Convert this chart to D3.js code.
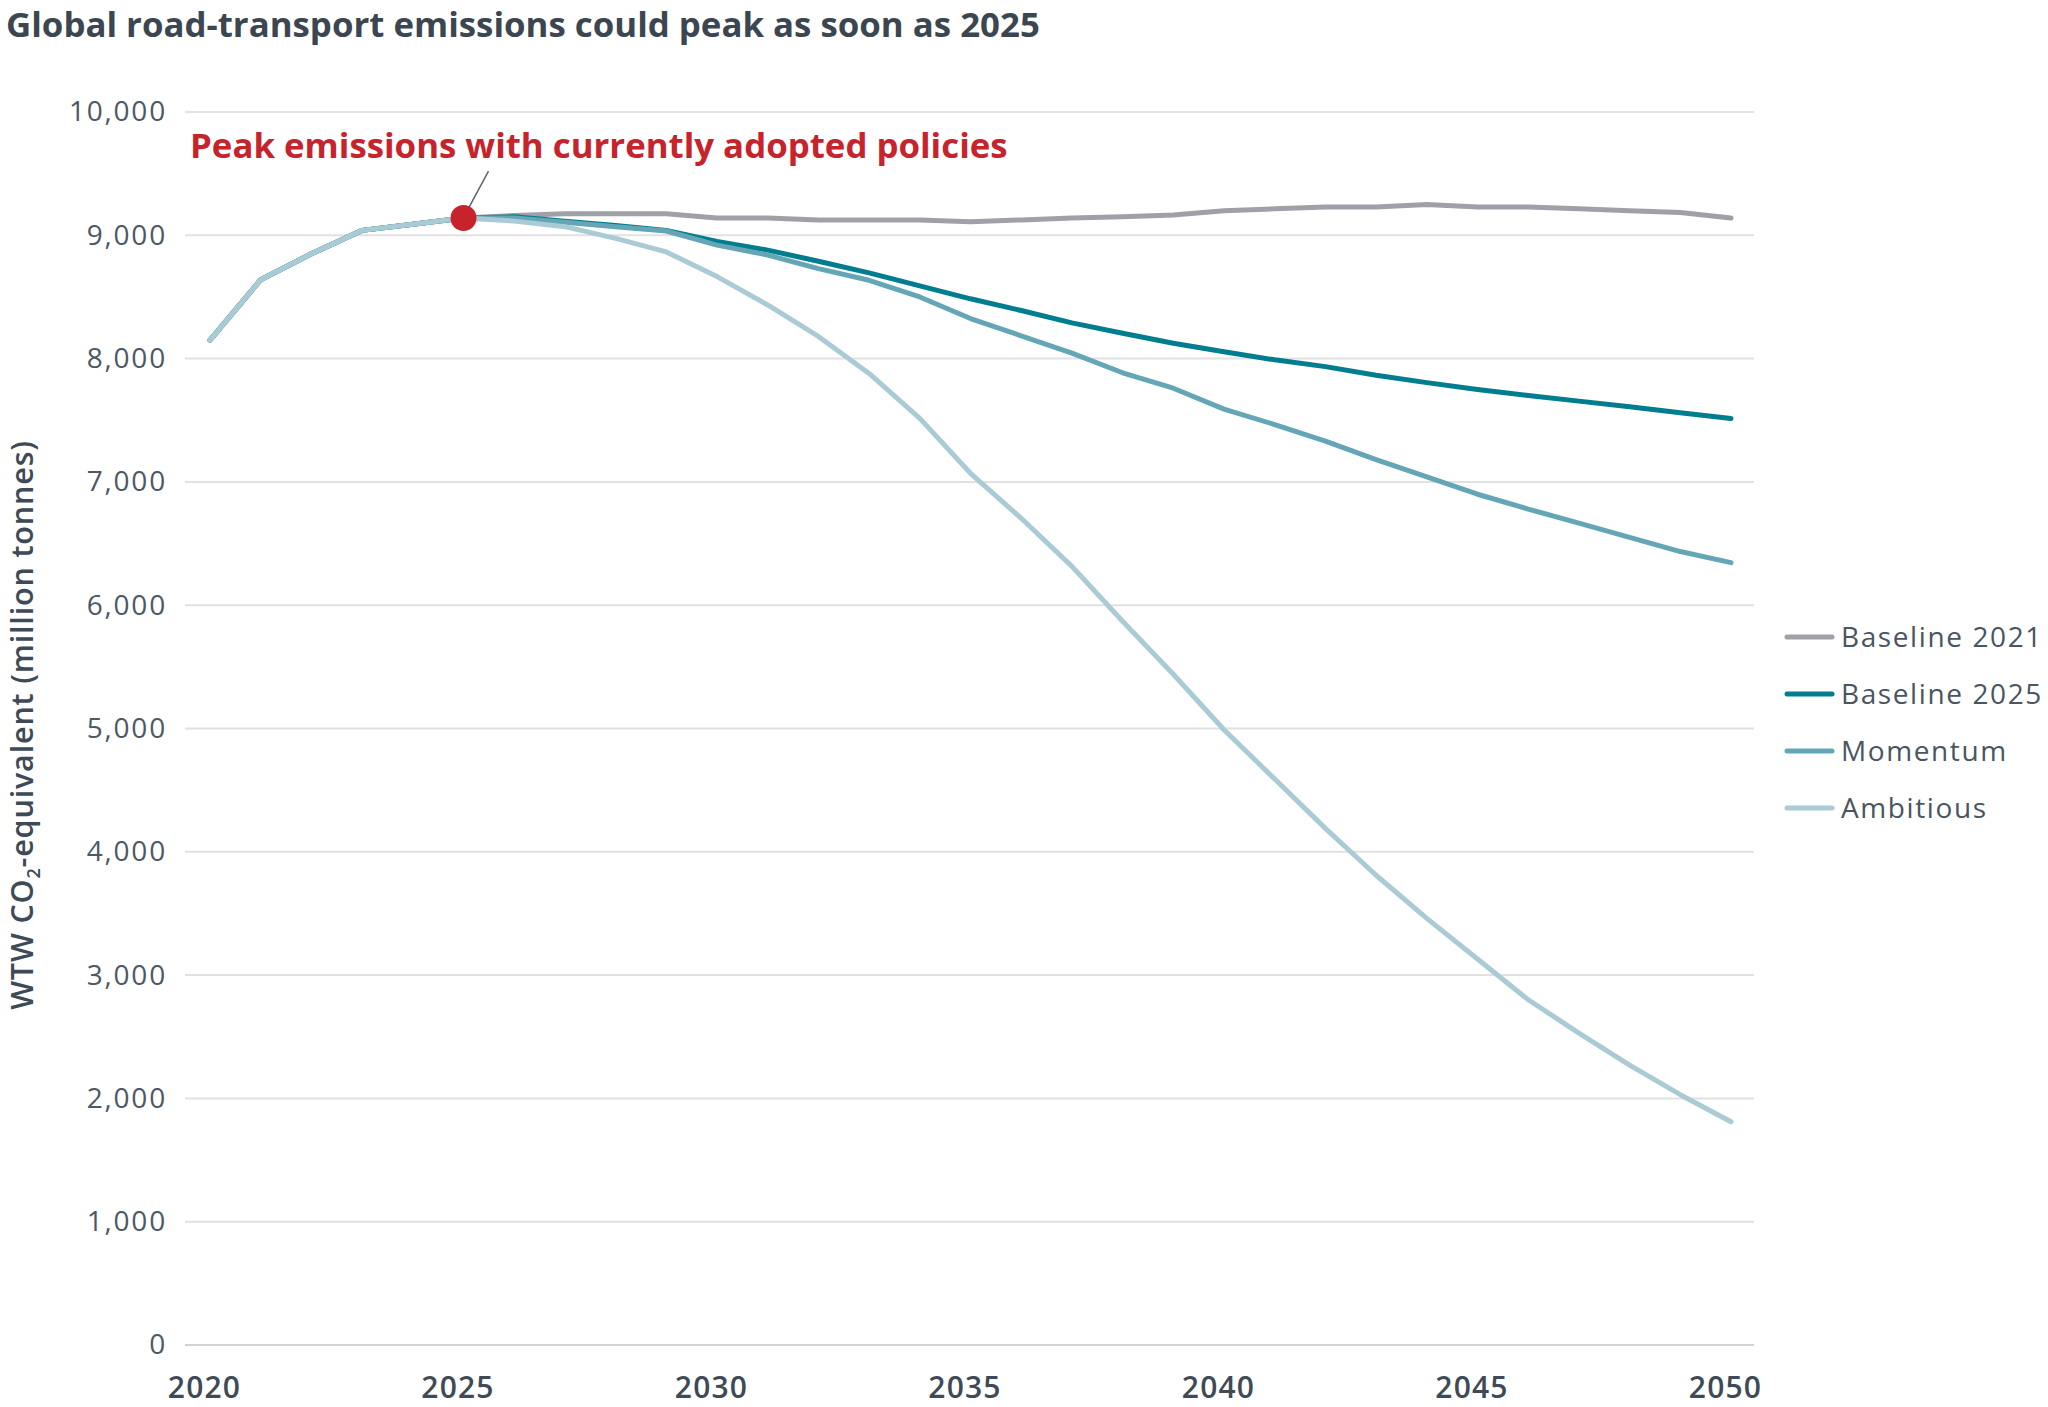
<!DOCTYPE html>
<html>
<head>
<meta charset="utf-8">
<script src="https://cdn.jsdelivr.net/npm/d3@7"></script>
<style>
  body { margin: 0; background: #ffffff; }
  text { font-family: "Open Sans", sans-serif; }
</style>
</head>
<body>
<div class="chart"></div>
<script>
// chart data
var years = [2020, 2021, 2022, 2023, 2024, 2025, 2026, 2027, 2028, 2029, 2030,
  2031, 2032, 2033, 2034, 2035, 2036, 2037, 2038, 2039, 2040,
  2041, 2042, 2043, 2044, 2045, 2046, 2047, 2048, 2049, 2050];

var baseline2021 = [8150, 8640, 8850, 9040, 9090, 9140, 9160, 9175, 9175, 9175, 9140,
  9140, 9125, 9125, 9125, 9110, 9125, 9140, 9150, 9165, 9200,
  9215, 9230, 9230, 9250, 9230, 9230, 9215, 9200, 9185, 9140];

var baseline2025 = [8150, 8640, 8850, 9040, 9090, 9140, 9150, 9115, 9080, 9040, 8950,
  8880, 8790, 8695, 8590, 8485, 8390, 8290, 8205, 8125, 8055,
  7990, 7935, 7865, 7805, 7750, 7700, 7655, 7610, 7560, 7515];

var momentum = [8150, 8640, 8850, 9040, 9090, 9140, 9140, 9105, 9070, 9035, 8920,
  8840, 8730, 8635, 8500, 8325, 8185, 8045, 7885, 7760, 7590,
  7465, 7330, 7180, 7040, 6900, 6780, 6665, 6550, 6435, 6345];

var ambitious = [8150, 8640, 8850, 9040, 9090, 9140, 9115, 9070, 8975, 8865, 8665,
  8435, 8180, 7880, 7515, 7070, 6705, 6315, 5870, 5440, 4990,
  4590, 4190, 3810, 3460, 3130, 2800, 2530, 2270, 2030, 1810];

var seriesNames = ["Baseline 2021", "Baseline 2025", "Momentum", "Ambitious"];
var seriesColors = ["#a0a1a8", "#007d8f", "#65a6b6", "#aacbd6"];

var yTicks = [0, 1000, 2000, 3000, 4000, 5000, 6000, 7000, 8000, 9000, 10000];
var xTicks = [2020, 2025, 2030, 2035, 2040, 2045, 2050];

var peakYear = 2025;
var peakValue = 9140;

var chartTitle = "Global road-transport emissions could peak as soon as 2025";
var noteText = "Peak emissions with currently adopted policies";

function makeChart() {

  var svgWidth = 2048;
  var svgHeight = 1407;

  var textColor = "#3e4a56";

  var svg = d3.select(".chart")
    .append("svg")
    .attr("width", svgWidth)
    .attr("height", svgHeight);

  // scales
  var xScale = d3.scaleLinear()
    .domain([2020, 2050])
    .range([210, 1731]);

  var yScale = d3.scaleLinear()
    .domain([0, 10000])
    .range([1345, 112]);

  // shrink/grow a text so that it covers the width it has in the picture
  function fitWidth(sel, target) {
    var w = sel.node().getComputedTextLength();
    var fs = parseFloat(sel.attr("font-size"));
    sel.attr("font-size", (fs * target / w).toFixed(2));
  }

  // title
  var title = svg.append("text")
    .attr("x", 6)
    .attr("y", 37)
    .attr("font-size", 30)
    .attr("font-weight", 700)
    .attr("fill", "#3b4651")
    .text(chartTitle);
  fitWidth(title, 1034);

  // gridlines
  var grid = svg.append("g");
  grid.selectAll("line")
    .data(yTicks)
    .enter()
    .append("line")
    .attr("x1", 185)
    .attr("x2", 1754)
    .attr("y1", d => yScale(d))
    .attr("y2", d => yScale(d))
    .attr("stroke", d => d === 0 ? "#d2d2d2" : "#e1e1e1")
    .attr("stroke-width", 2);

  // left axis labels
  var leftAxis = d3.axisLeft(yScale)
    .tickValues(yTicks)
    .tickFormat(d3.format(","))
    .tickSize(0)
    .tickPadding(0);

  var yAxisG = svg.append("g")
    .attr("transform", "translate(167, 0)")
    .call(leftAxis);
  yAxisG.select(".domain").remove();
  yAxisG.selectAll("text")
    .attr("font-family", "Open Sans, sans-serif")
    .attr("font-size", 28)
    .attr("letter-spacing", 1.8)
    .attr("fill", "#4d5864");

  // bottom axis labels
  var bottomAxis = d3.axisBottom(xScale)
    .tickValues(xTicks)
    .tickFormat(d3.format("d"))
    .tickSize(0)
    .tickPadding(0);

  var xAxisG = svg.append("g")
    .attr("transform", "translate(-6, 1377)")
    .call(bottomAxis);
  xAxisG.select(".domain").remove();
  xAxisG.selectAll("text")
    .attr("font-family", "Open Sans, sans-serif")
    .attr("font-size", 30)
    .attr("font-weight", 600)
    .attr("letter-spacing", 1.2)
    .attr("fill", textColor);

  // y axis title
  var yTitle = svg.append("text")
    .attr("transform", "translate(33, 725) rotate(-90)")
    .attr("text-anchor", "middle")
    .attr("font-size", 29)
    .attr("font-weight", 600)
    .attr("letter-spacing", 0.8)
    .attr("fill", textColor);
  yTitle.append("tspan").text("WTW CO");
  yTitle.append("tspan")
    .attr("font-size", 18)
    .attr("dy", 7)
    .text("2");
  yTitle.append("tspan")
    .attr("dy", -7)
    .text("-equivalent (million tonnes)");
  fitWidth(yTitle, 572);

  // lines
  var allSeries = [baseline2021, baseline2025, momentum, ambitious];

  var line = d3.line()
    .x((d, i) => xScale(years[i]))
    .y(d => yScale(d));

  svg.append("g")
    .selectAll("path")
    .data(allSeries)
    .enter()
    .append("path")
    .attr("d", line)
    .attr("fill", "none")
    .attr("stroke", (d, i) => seriesColors[i])
    .attr("stroke-width", 5)
    .attr("stroke-linejoin", "round")
    .attr("stroke-linecap", "round");

  // peak annotation
  var px = xScale(peakYear);
  var py = yScale(peakValue);

  svg.append("line")
    .attr("x1", px + 25)
    .attr("y1", py - 47)
    .attr("x2", px + 4)
    .attr("y2", py - 8)
    .attr("stroke", "#5b6570")
    .attr("stroke-width", 1.5);

  svg.append("circle")
    .attr("cx", px)
    .attr("cy", py)
    .attr("r", 13)
    .attr("fill", "#c6232d");

  var note = svg.append("text")
    .attr("x", 190)
    .attr("y", 158)
    .attr("font-size", 29)
    .attr("font-weight", 700)
    .attr("fill", "#c6232d")
    .text(noteText);
  fitWidth(note, 818);

  // legend
  var legendY = [637, 694, 751, 808];
  var legend = svg.append("g")
    .selectAll("g")
    .data(seriesNames)
    .enter()
    .append("g")
    .attr("transform", (d, i) => `translate(1787, ${legendY[i]})`);

  legend.append("line")
    .attr("x1", 0)
    .attr("x2", 45)
    .attr("stroke", (d, i) => seriesColors[i])
    .attr("stroke-width", 5)
    .attr("stroke-linecap", "round");

  legend.append("text")
    .attr("x", 54)
    .attr("dy", "0.35em")
    .attr("font-size", 28)
    .attr("letter-spacing", 1.6)
    .attr("fill", "#4a5561")
    .text(d => d);
}

makeChart();
</script>
</body>
</html>
